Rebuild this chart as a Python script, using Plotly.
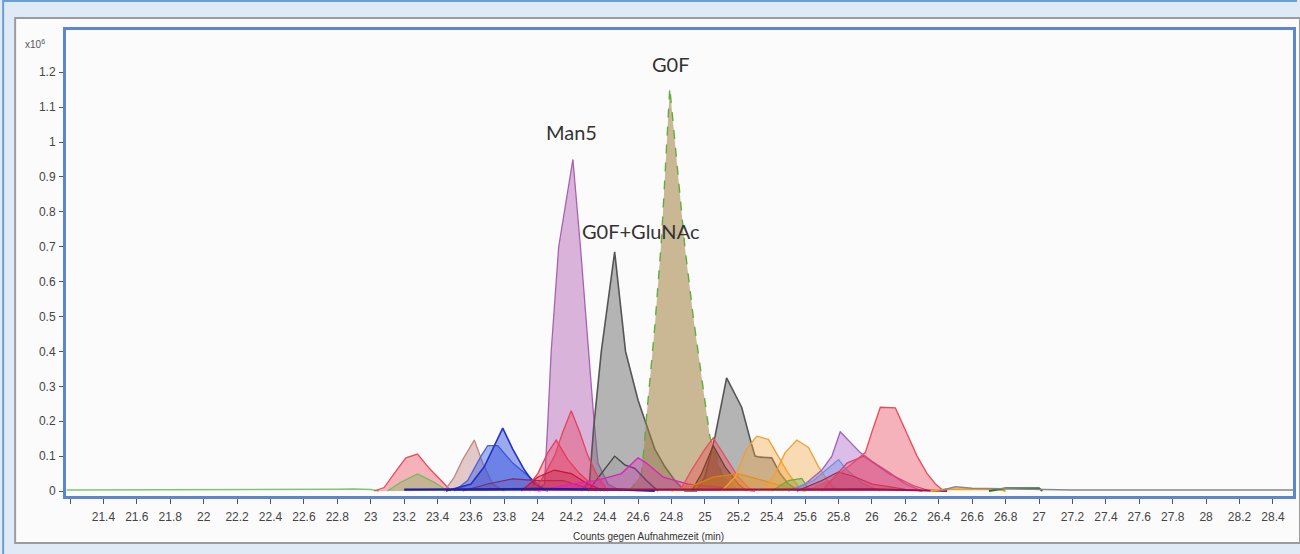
import plotly.graph_objects as go

# ---------------- data (time in min, counts in x10^6) ----------------
baseline_green_t = [21.18, 22.7, 22.8, 22.9, 23.0, 23.05]
baseline_green_v = [0.003, 0.003, 0.005, 0.006, 0.004, 0.0]

man5_t = [23.98, 24.04, 24.06, 24.08, 24.125, 24.21, 24.255, 24.3, 24.335, 24.36, 24.42, 24.5]
man5_v = [0, 0.02, 0.2, 0.4, 0.7, 0.95, 0.7, 0.42, 0.21, 0.08, 0.02, 0]

grey_t = [24.26, 24.31, 24.334, 24.38, 24.46, 24.525, 24.6, 24.645, 24.7, 24.76, 24.82, 24.88,
          24.95, 25.0, 25.06, 25.13, 25.22, 25.27, 25.3, 25.33, 25.4, 25.45, 25.5, 25.56]
grey_v = [0, 0.03, 0.18, 0.4, 0.685, 0.4, 0.26, 0.195, 0.12, 0.07, 0.03, 0,
          0, 0.04, 0.155, 0.324, 0.24, 0.15, 0.1, 0.097, 0.095, 0.05, 0.02, 0]

darkgrey_t = [24.3, 24.38, 24.46, 24.52, 24.58, 24.65, 24.72]
darkgrey_v = [0, 0.05, 0.1, 0.075, 0.065, 0.03, 0]

g0f_t = [24.55, 24.62, 24.635, 24.65, 24.7, 24.74, 24.79, 24.84, 24.88, 24.93, 24.98, 25.03, 25.1, 25.2]
g0f_v = [0, 0.05, 0.12, 0.21, 0.47, 0.72, 1.155, 0.9, 0.7, 0.5, 0.32, 0.155, 0.05, 0]

redA_t = [23.02, 23.08, 23.14, 23.21, 23.28, 23.35, 23.43, 23.48]
redA_v = [0, 0.01, 0.05, 0.095, 0.106, 0.065, 0.026, 0]

green1_t = [23.1, 23.18, 23.28, 23.38, 23.46]
green1_v = [0, 0.025, 0.049, 0.025, 0]

rosy_t = [23.44, 23.5, 23.55, 23.62, 23.67, 23.73, 23.8]
rosy_v = [0, 0.04, 0.09, 0.146, 0.08, 0.02, 0]

blue2_t = [23.5, 23.58, 23.66, 23.7, 23.76, 23.85, 23.95, 24.05]
blue2_v = [0, 0.03, 0.1, 0.13, 0.13, 0.08, 0.04, 0]

blue1_t = [23.45, 23.6, 23.68, 23.74, 23.79, 23.85, 23.92, 23.98, 24.06]
blue1_v = [0, 0.02, 0.07, 0.13, 0.18, 0.12, 0.06, 0.02, 0]

bluebase_t = [23.2, 23.5, 24.0, 24.5, 24.7]
bluebase_v = [0.004, 0.005, 0.006, 0.004, 0]

dpurple_t = [23.55, 23.7, 23.85, 24.0, 24.15, 24.25, 24.35]
dpurple_v = [0, 0.02, 0.035, 0.03, 0.03, 0.015, 0]

redC_t = [23.92, 24.0, 24.06, 24.11, 24.18, 24.25, 24.32, 24.38]
redC_v = [0, 0.05, 0.11, 0.146, 0.09, 0.05, 0.02, 0]

redB_t = [23.95, 24.02, 24.1, 24.15, 24.2, 24.25, 24.3, 24.36, 24.42]
redB_v = [0, 0.03, 0.1, 0.17, 0.23, 0.17, 0.1, 0.04, 0]

crimson1_t = [23.9, 24.0, 24.1, 24.2, 24.3, 24.4]
crimson1_v = [0, 0.04, 0.06, 0.05, 0.02, 0]

magenta_t = [24.0, 24.2, 24.35, 24.5, 24.6, 24.65, 24.75, 24.9, 25.1, 25.3]
magenta_v = [0, 0.02, 0.03, 0.05, 0.095, 0.08, 0.04, 0.02, 0.01, 0]

redD_t = [24.85, 24.92, 25.0, 25.05, 25.12, 25.2, 25.28]
redD_v = [0, 0.06, 0.12, 0.152, 0.1, 0.04, 0]

brown_t = [24.92, 24.98, 25.05, 25.12, 25.2, 25.25]
brown_v = [0, 0.05, 0.13, 0.07, 0.02, 0]

orangelow_t = [24.8, 24.95, 25.05, 25.2, 25.35, 25.5, 25.6]
orangelow_v = [0, 0.02, 0.04, 0.05, 0.03, 0.01, 0]

orange1_t = [25.1, 25.18, 25.25, 25.31, 25.38, 25.44, 25.5, 25.58]
orange1_v = [0, 0.04, 0.12, 0.157, 0.148, 0.1, 0.05, 0]

orange2_t = [25.35, 25.42, 25.48, 25.55, 25.62, 25.68, 25.74, 25.8]
orange2_v = [0, 0.05, 0.11, 0.146, 0.125, 0.07, 0.025, 0]

green2_t = [25.4, 25.5, 25.58, 25.63]
green2_v = [0, 0.03, 0.036, 0]

purple2_t = [25.5, 25.6, 25.7, 25.76, 25.81, 25.87, 25.93, 26.0, 26.1, 26.2, 26.3]
purple2_v = [0, 0.02, 0.06, 0.1, 0.17, 0.14, 0.11, 0.085, 0.054, 0.02, 0]

bluesmall_t = [25.5, 25.65, 25.75, 25.8, 25.85, 25.95, 26.05]
bluesmall_v = [0, 0.03, 0.07, 0.09, 0.06, 0.02, 0]

crimson2_t = [25.55, 25.7, 25.8, 25.9, 26.0, 26.2, 26.3]
crimson2_v = [0, 0.03, 0.055, 0.04, 0.02, 0.005, 0]

pink2_t = [25.7, 25.85, 25.95, 26.1, 26.25, 26.35]
pink2_v = [0, 0.08, 0.1, 0.05, 0.015, 0]

redbig_t = [25.6, 25.75, 25.86, 25.96, 26.0, 26.05, 26.14, 26.21, 26.27, 26.33, 26.38, 26.43]
redbig_v = [0, 0.03, 0.07, 0.11, 0.17, 0.24, 0.238, 0.165, 0.1, 0.05, 0.02, 0]

redbase_t = [24.3, 25.0, 26.0, 26.45]
redbase_v = [0.004, 0.005, 0.005, 0]

orangetail_t = [26.35, 26.45, 26.75, 26.8]
orangetail_v = [0, 0.005, 0.006, 0]

greentail_t = [26.7, 26.8, 27.0, 27.02]
greentail_v = [0, 0.008, 0.008, 0]

greytail_t = [26.4, 26.5, 26.6, 27.0, 27.2, 28.52]
greytail_v = [0, 0.012, 0.008, 0.005, 0.003, 0.003]

x_unlabelled_tick = [21.2]
x_tickvals = [21.4, 21.6, 21.8, 22, 22.2, 22.4, 22.6, 22.8, 23, 23.2, 23.4, 23.6, 23.8, 24,
              24.2, 24.4, 24.6, 24.8, 25, 25.2, 25.4, 25.6, 25.8, 26, 26.2, 26.4, 26.6, 26.8, 27,
              27.2, 27.4, 27.6, 27.8, 28, 28.2, 28.4]
x_ticktext = ["21.4", "21.6", "21.8", "22", "22.2", "22.4", "22.6", "22.8", "23", "23.2",
              "23.4", "23.6", "23.8", "24", "24.2", "24.4", "24.6", "24.8", "25", "25.2",
              "25.4", "25.6", "25.8", "26", "26.2", "26.4", "26.6", "26.8", "27", "27.2",
              "27.4", "27.6", "27.8", "28", "28.2", "28.4"]
y_tickvals = [0, 0.1, 0.2, 0.3, 0.4, 0.5, 0.6, 0.7, 0.8, 0.9, 1.0, 1.1, 1.2]
y_ticktext = ["0", "0.1", "0.2", "0.3", "0.4", "0.5", "0.6", "0.7", "0.8", "0.9", "1", "1.1", "1.2"]

peak_labels = ["Man5", "G0F+GluNAc", "G0F"]
peak_label_t = [24.2, 24.62, 24.8]
peak_label_v = [1.03, 0.745, 1.225]

x_title = "Counts gegen Aufnahmezeit (min)"

# ---------------- styles ----------------
series = [
    (baseline_green_t, baseline_green_v, "#7cc870", None, "solid", 1.5),
    (man5_t, man5_v, "#a862b0", "rgba(175,90,175,0.45)", "solid", 1.3),
    (grey_t, grey_v, "#555555", "rgba(110,110,110,0.5)", "solid", 1.6),
    (g0f_t, g0f_v, "#5fae3c", "rgba(160,130,60,0.55)", "dash", 1.4),
    (darkgrey_t, darkgrey_v, "#444444", "rgba(90,90,90,0.12)", "solid", 1.3),
    (redA_t, redA_v, "#ec4a5a", "rgba(240,60,80,0.38)", "solid", 1.3),
    (green1_t, green1_v, "#6cbf55", "rgba(110,180,80,0.35)", "solid", 1.2),
    (rosy_t, rosy_v, "#c08a80", "rgba(180,110,100,0.35)", "solid", 1.3),
    (blue2_t, blue2_v, "#4a63de", "rgba(60,90,225,0.45)", "solid", 1.3),
    (blue1_t, blue1_v, "#2233cc", "rgba(40,70,220,0.45)", "solid", 1.6),
    (dpurple_t, dpurple_v, "#7a2a7a", "rgba(120,40,120,0.2)", "solid", 1.2),
    (redC_t, redC_v, "#e8405a", "rgba(235,50,80,0.35)", "solid", 1.3),
    (redB_t, redB_v, "#e8405a", "rgba(235,50,80,0.35)", "solid", 1.3),
    (crimson1_t, crimson1_v, "#c0143c", "rgba(190,20,60,0.3)", "solid", 1.2),
    (magenta_t, magenta_v, "#e020c0", "rgba(225,30,190,0.3)", "solid", 1.3),
    (redD_t, redD_v, "#e8505f", "rgba(240,60,80,0.35)", "solid", 1.3),
    (brown_t, brown_v, "#7b3a22", "rgba(130,55,30,0.4)", "solid", 1.2),
    (orangelow_t, orangelow_v, "#d98310", "rgba(220,130,20,0.35)", "solid", 1.3),
    (orange1_t, orange1_v, "#f0a030", "rgba(245,165,60,0.38)", "solid", 1.3),
    (orange2_t, orange2_v, "#f0a030", "rgba(245,165,60,0.38)", "solid", 1.3),
    (green2_t, green2_v, "#6aa83a", "rgba(110,170,60,0.4)", "solid", 1.2),
    (purple2_t, purple2_v, "#a060c0", "rgba(170,100,200,0.4)", "solid", 1.3),
    (bluesmall_t, bluesmall_v, "#6f8fe0", "rgba(100,140,230,0.35)", "solid", 1.2),
    (crimson2_t, crimson2_v, "#c0143c", "rgba(190,20,60,0.3)", "solid", 1.2),
    (pink2_t, pink2_v, "#d04080", "rgba(210,60,130,0.3)", "solid", 1.2),
    (redbig_t, redbig_v, "#ec4a5a", "rgba(240,60,80,0.38)", "solid", 1.3),
    (bluebase_t, bluebase_v, "#1a22a0", None, "solid", 2.2),
    (redbase_t, redbase_v, "#a0104a", None, "solid", 2.0),
    (orangetail_t, orangetail_v, "#f0a020", None, "solid", 2.0),
    (greentail_t, greentail_v, "#2e6e2e", None, "solid", 2.0),
    (greytail_t, greytail_v, "#888888", None, "solid", 1.5),
]

fig = go.Figure()
for t, v, lc, fc, dash, lw in series:
    fig.add_trace(go.Scatter(
        x=t, y=v, mode="lines",
        line=dict(color=lc, width=lw, dash=dash),
        fill="tozeroy" if fc else None,
        fillcolor=fc,
        hoverinfo="skip", showlegend=False,
    ))

W, H = 1300, 554
ML, MR, MT, MB = 66, 4, 30, 58
PW, PH = W - ML - MR, H - MT - MB


def px(xp):
    return (xp - ML) / PW


def py(yp):
    return (H - MB - yp) / PH


shapes = [
    # panel
    dict(type="rect", xref="paper", yref="paper", x0=px(15), x1=px(1303), y0=py(543), y1=py(18),
         fillcolor="#fbfbfc", line=dict(color="#9c9c9c", width=2), layer="below"),
    # outer window border (left/top)
    dict(type="line", xref="paper", yref="paper", x0=px(3), x1=px(3), y0=py(554), y1=py(0),
         line=dict(color="#6a9fd2", width=2)),
    dict(type="line", xref="paper", yref="paper", x0=px(3), x1=px(1300), y0=py(1), y1=py(1),
         line=dict(color="#6a9fd2", width=2)),
]

label_font = dict(family="Lato, Liberation Sans, sans-serif", size=20, color="#333333")
annotations = [
    dict(text=peak_labels[i], x=peak_label_t[i], y=peak_label_v[i], xref="x", yref="y",
         xanchor="center", yanchor="middle", showarrow=False, font=label_font)
    for i in range(len(peak_labels))
]
annotations += [
    dict(text=x_title, x=px(650), y=py(536), xref="paper", yref="paper", showarrow=False,
         xanchor="center", yanchor="middle",
         font=dict(family="Liberation Sans, Arial, sans-serif", size=10, color="#333333")),
    dict(text="x10<sup>6</sup>", x=px(35), y=py(44), xref="paper", yref="paper", showarrow=False,
         xanchor="center", yanchor="middle",
         font=dict(family="Liberation Sans, Arial, sans-serif", size=10, color="#555555")),
]

tick_font = dict(family="Liberation Sans, Arial, sans-serif", size=12, color="#444444")

fig.update_layout(
    width=W, height=H,
    margin=dict(l=ML, r=MR, t=MT, b=MB, pad=0),
    paper_bgcolor="#dfeaf6",
    plot_bgcolor="#ffffff",
    shapes=shapes,
    annotations=annotations,
    showlegend=False,
    xaxis=dict(
        range=[21.176, 28.52], tickmode="array", tickvals=x_tickvals, ticktext=x_ticktext,
        showgrid=False, zeroline=False, showline=True, linecolor="#5b87d0", linewidth=3,
        mirror=True, ticks="outside", ticklen=5, tickcolor="#555555", tickwidth=1,
        tickfont=tick_font, ticklabelstandoff=3,
        minor=dict(tickmode="array", tickvals=x_unlabelled_tick, ticks="outside", ticklen=5,
                   tickcolor="#555555", tickwidth=1, showgrid=False),
    ),
    yaxis=dict(
        range=[-0.0143, 1.321], tickmode="array", tickvals=y_tickvals, ticktext=y_ticktext,
        showgrid=False, zeroline=False, showline=True, linecolor="#5b87d0", linewidth=3,
        mirror=True, ticks="outside", ticklen=4, tickcolor="#555555", tickwidth=1,
        tickfont=tick_font, ticklabelstandoff=1,
    ),
)

fig.write_html("out.html")
